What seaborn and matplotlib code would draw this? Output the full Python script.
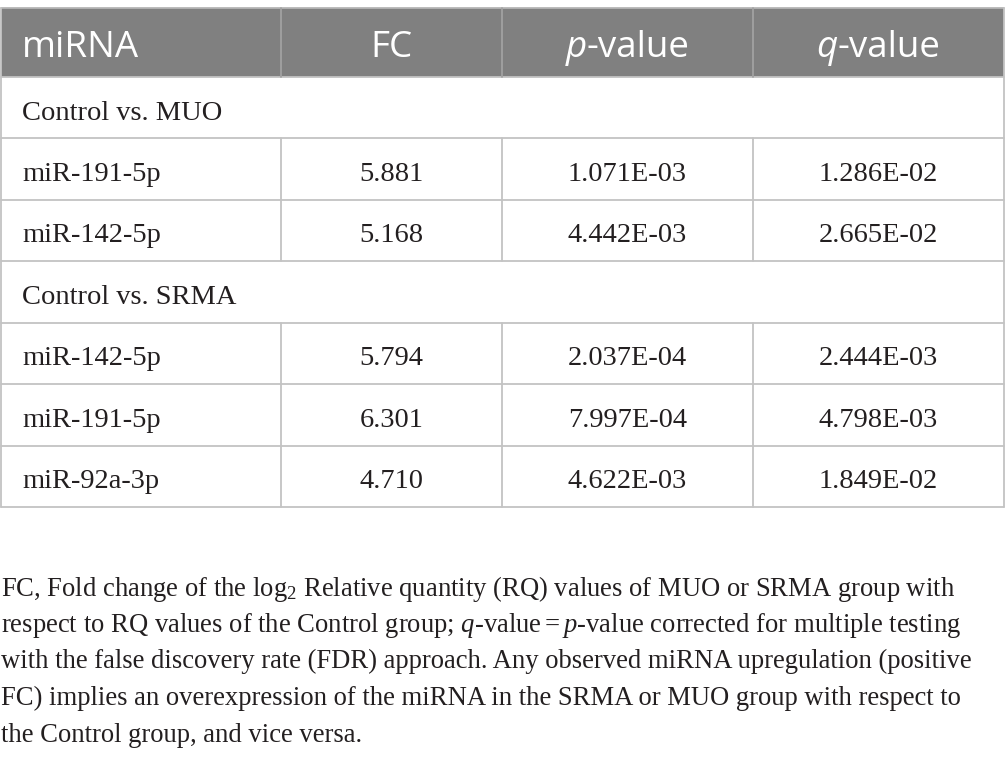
import matplotlib
matplotlib.use("Agg")
import matplotlib.pyplot as plt
import seaborn as sns

sns.set_theme(style="white")
plt.rcParams['font.family'] = ['Liberation Serif', 'DejaVu Serif']
plt.rcParams['mathtext.fontset'] = 'custom'
plt.rcParams['mathtext.rm'] = 'Liberation Serif'
plt.rcParams['mathtext.it'] = 'Liberation Serif:italic'
plt.rcParams['mathtext.bf'] = 'Liberation Serif:bold'

# ---------------- data ----------------
header_labels = ["miRNA", "FC", "p-value", "q-value"]
groups = ["Control vs. MUO", "Control vs. SRMA"]
mirna_muo = ["miR-191-5p", "miR-142-5p"]
fc_muo = ["5.881", "5.168"]
p_muo = ["1.071E-03", "4.442E-03"]
q_muo = ["1.286E-02", "2.665E-02"]
mirna_srma = ["miR-142-5p", "miR-191-5p", "miR-92a-3p"]
fc_srma = ["5.794", "6.301", "4.710"]
p_srma = ["2.037E-04", "7.997E-04", "4.622E-03"]
q_srma = ["2.444E-03", "4.798E-03", "1.849E-02"]
caption_lines = [
    r"FC, Fold change of the log${}_2$ Relative quantity (RQ) values of MUO or SRMA group with",
    r"respect to RQ values of the Control group; $q$-value$=$$p$-value corrected for multiple testing",
    "with the false discovery rate (FDR) approach. Any observed miRNA upregulation (positive",
    "FC) implies an overexpression of the miRNA in the SRMA or MUO group with respect to",
    "the Control group, and vice versa.",
]

# ---------------- layout ----------------
W, H = 1005, 763
col_edges = [1, 281, 502, 753, 1004]
header_top, header_bot = 8, 77
row_h = 61.45
HEADER_BG = "#808080"
GRID = "#c3c3c3"
TEXT = "#231f20"
HEAD_FONT = "Open Sans"
BODY_FONT = "Liberation Serif"
HEAD_SIZE = 26.5
BODY_SIZE = 20.5
CAP_SIZE = 19.2

fig = plt.figure(figsize=(W / 100, H / 100), dpi=100)
ax = fig.add_axes([0, 0, 1, 1])
ax.set_xlim(0, W)
ax.set_ylim(H, 0)
ax.axis("off")
renderer = fig.canvas.get_renderer()


def text_width(s, **kw):
    t = ax.text(0, 0, s, **kw)
    w = t.get_window_extent(renderer=renderer).width
    t.remove()
    return w


def draw_runs(x, y, runs, ha="left"):
    """runs: list of (string, kwargs)"""
    widths = [text_width(s, **kw) for s, kw in runs]
    total = sum(widths)
    if ha == "center":
        x = x - total / 2
    cx = x
    for (s, kw), w in zip(runs, widths):
        ax.text(cx, y, s, va="baseline", ha="left", **kw)
        cx += w


# header background
ax.add_patch(plt.Rectangle((col_edges[0], header_top), col_edges[-1] - col_edges[0],
                           header_bot - header_top, facecolor=HEADER_BG,
                           edgecolor="none", zorder=0))

# build rows
rows = []
rows.append(("group", [groups[0]]))
for m, f, p, q in zip(mirna_muo, fc_muo, p_muo, q_muo):
    rows.append(("data", [m, f, p, q]))
rows.append(("group", [groups[1]]))
for m, f, p, q in zip(mirna_srma, fc_srma, p_srma, q_srma):
    rows.append(("data", [m, f, p, q]))

n = len(rows)
row_tops = [header_bot + i * row_h for i in range(n + 1)]

# grid lines
ax.plot([col_edges[0], col_edges[-1]], [header_top, header_top], color="#b5b5b5", lw=1.3, zorder=2)
for y in row_tops:
    ax.plot([col_edges[0], col_edges[-1]], [y, y], color=GRID, lw=1.3, zorder=2)
for x in (col_edges[0], col_edges[-1]):
    ax.plot([x, x], [header_top, row_tops[-1]], color=GRID, lw=1.3, zorder=2)
for x in col_edges[1:-1]:
    ax.plot([x, x], [header_top, header_bot], color="#a2a2a2", lw=1.3, zorder=2)
for i, (kind, vals) in enumerate(rows):
    if kind == "data":
        for x in col_edges[1:-1]:
            ax.plot([x, x], [row_tops[i], row_tops[i + 1]], color=GRID, lw=1.3, zorder=2)

# header text
hk = dict(family=HEAD_FONT, fontsize=HEAD_SIZE, color="white")
hk_it = dict(family=HEAD_FONT, fontsize=HEAD_SIZE, color="white", style="italic")
hy = header_top + 49
centers = [(col_edges[i] + col_edges[i + 1]) / 2 for i in range(4)]
ax.text(22, hy, header_labels[0], va="baseline", ha="left", **hk)
ax.text(centers[1], hy, header_labels[1], va="baseline", ha="center", **hk)
for ci in (2, 3):
    lab = header_labels[ci]
    draw_runs(centers[ci], hy, [(lab[0], hk_it), (lab[1:], hk)], ha="center")

# body text
bk = dict(family=BODY_FONT, fontsize=BODY_SIZE, color=TEXT)
for i, (kind, vals) in enumerate(rows):
    y = row_tops[i] + 42.5
    ax.text(22, y, vals[0], va="baseline", ha="left", **bk)
    if kind == "data":
        for ci in (1, 2, 3):
            ax.text(centers[ci], y, vals[ci], va="baseline", ha="center", **bk)

# caption
ck = dict(family=BODY_FONT, fontsize=CAP_SIZE, color=TEXT)
base = [595.5, 632, 668.5, 705, 741.5]
for y, line in zip(base, caption_lines):
    ax.text(1, y, line, va="baseline", ha="left", **ck)

fig.savefig("out.png", dpi=100, facecolor="white")
